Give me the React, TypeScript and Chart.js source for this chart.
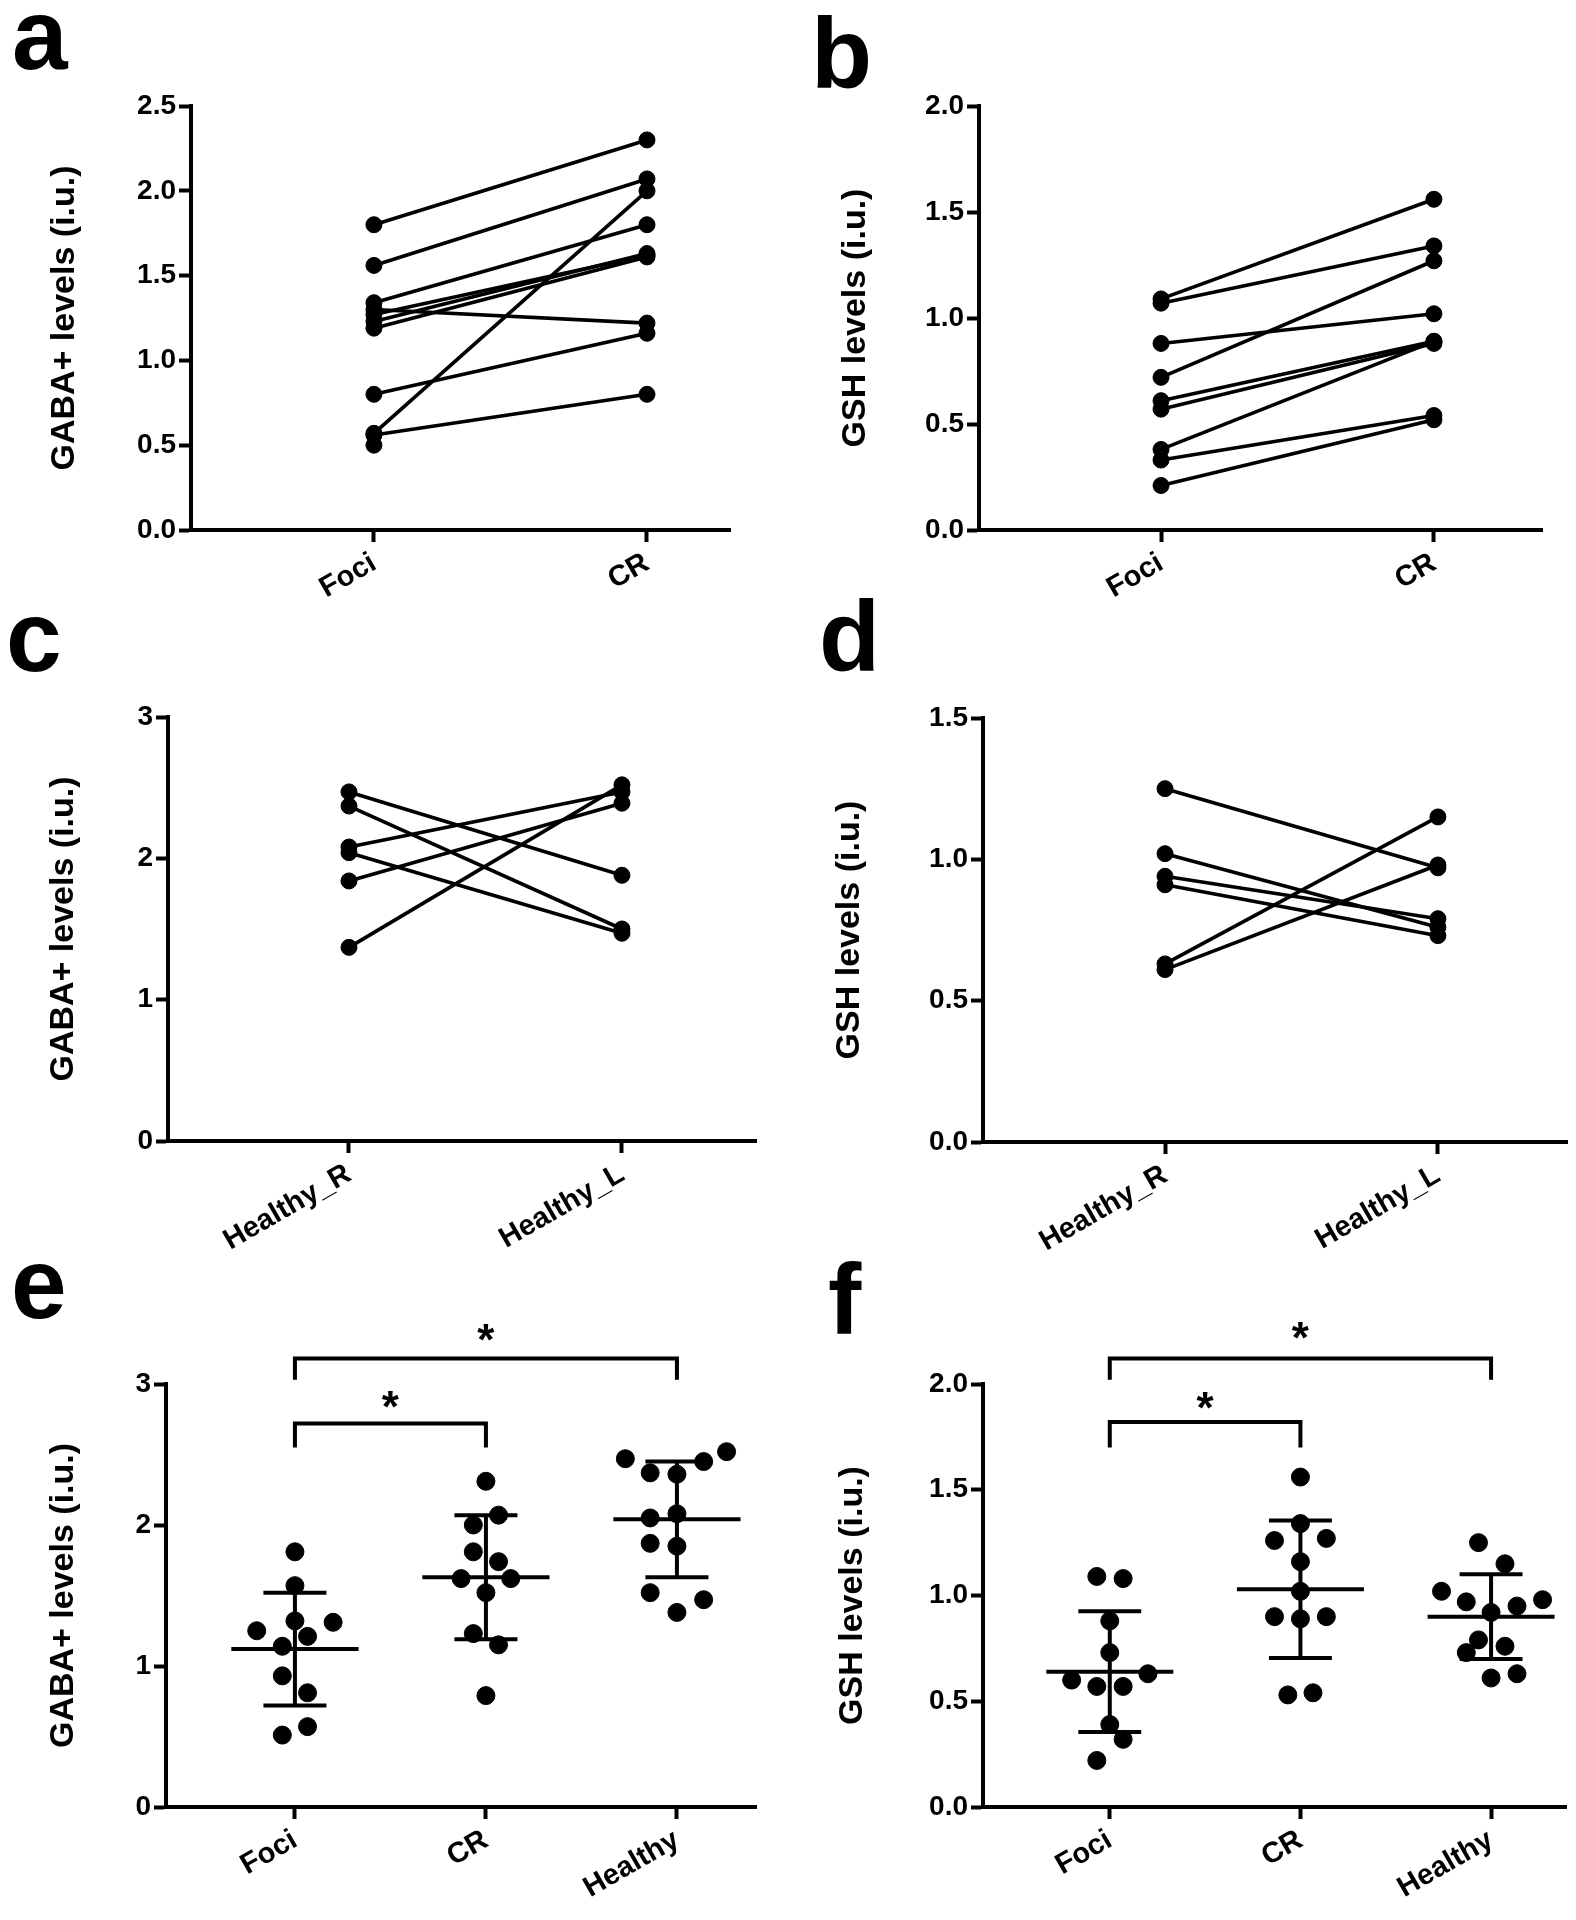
import React, { useEffect, useRef } from "react";
import { Chart, registerables } from "chart.js";

Chart.register(...registerables);

const FONT = '"Liberation Sans", Arial, Helvetica, sans-serif';

// ---------------- DATA ----------------
// Panel a: GABA+ paired (Foci -> CR)
const aCategories = ["Foci", "CR"];
const aFoci: (number | null)[] = [1.8, 1.56, 1.34, 1.3, 1.27, 1.23, 1.19, 0.8, 0.57, 0.56, 0.5];
const aCR: (number | null)[] = [2.3, 2.07, 1.8, 1.22, 1.62, 1.63, 1.61, 1.16, 2.0, 0.8, null];
const aYTicks = [0, 0.5, 1.0, 1.5, 2.0, 2.5];

// Panel b: GSH paired (Foci -> CR)
const bCategories = ["Foci", "CR"];
const bFoci: (number | null)[] = [1.09, 1.07, 0.88, 0.72, 0.61, 0.57, 0.38, 0.33, 0.21];
const bCR: (number | null)[] = [1.56, 1.34, 1.02, 1.27, 0.89, 0.88, 0.89, 0.54, 0.52];
const bYTicks = [0, 0.5, 1.0, 1.5, 2.0];

// Panel c: GABA+ paired (Healthy_R -> Healthy_L)
const cCategories = ["Healthy_R", "Healthy_L"];
const cRight: (number | null)[] = [2.47, 2.37, 2.08, 2.04, 1.84, 1.37];
const cLeft: (number | null)[] = [1.88, 1.5, 2.47, 1.47, 2.39, 2.52];
const cYTicks = [0, 1, 2, 3];

// Panel d: GSH paired (Healthy_R -> Healthy_L)
const dCategories = ["Healthy_R", "Healthy_L"];
const dRight: (number | null)[] = [1.25, 1.02, 0.94, 0.91, 0.63, 0.61];
const dLeft: (number | null)[] = [0.97, 0.76, 0.79, 0.73, 1.15, 0.98];
const dYTicks = [0, 0.5, 1.0, 1.5];

// Panel e: GABA+ groups
const eCategories = ["Foci", "CR", "Healthy"];
const eFoci = [1.81, 1.57, 1.32, 1.25, 1.31, 1.21, 1.14, 0.93, 0.81, 0.57, 0.51];
const eFociJitter = [0, 0, 0, -0.2, 0.2, 0.066, -0.066, -0.066, 0.066, 0.066, -0.066];
const eCR = [2.31, 2.07, 2.0, 1.81, 1.74, 1.62, 1.62, 1.52, 1.23, 1.15, 0.79];
const eCRJitter = [0, 0.066, -0.066, -0.066, 0.066, -0.13, 0.13, 0, -0.066, 0.066, 0];
const eHealthy = [2.47, 2.52, 2.45, 2.37, 2.36, 2.05, 2.08, 1.87, 1.85, 1.52, 1.47, 1.38];
const eHealthyJitter = [-0.27, 0.26, 0.14, -0.14, 0, -0.14, 0, -0.14, 0, -0.14, 0.14, 0];
const eMean = [1.12, 1.63, 2.04];
const eSD = [0.4, 0.44, 0.41];
const eBracketFrom = [0, 0];
const eBracketTo = [1, 2];
const eBracketY = [2.72, 3.18];
const eBracketTip = [2.55, 3.03];
const eStarY = [2.87, 3.35];
const eYTicks = [0, 1, 2, 3];

// Panel f: GSH groups
const fCategories = ["Foci", "CR", "Healthy"];
const fFoci = [1.09, 1.08, 0.88, 0.73, 0.6, 0.57, 0.57, 0.63, 0.39, 0.32, 0.22];
const fFociJitter = [-0.068, 0.07, 0, 0, -0.2, -0.068, 0.07, 0.2, 0, 0.07, -0.068];
const fCR = [1.56, 1.34, 1.26, 1.27, 1.16, 1.02, 0.9, 0.89, 0.9, 0.53, 0.54];
const fCRJitter = [0, 0, -0.136, 0.136, 0, 0, -0.136, 0, 0.136, -0.066, 0.066];
const fHealthy = [1.25, 1.15, 1.02, 0.97, 0.92, 0.95, 0.98, 0.79, 0.73, 0.76, 0.61, 0.63];
const fHealthyJitter = [-0.066, 0.073, -0.26, -0.13, 0, 0.136, 0.27, -0.066, -0.13, 0.073, 0, 0.136];
const fMean = [0.64, 1.03, 0.9];
const fSD = [0.285, 0.325, 0.2];
const fBracketFrom = [0, 0];
const fBracketTo = [1, 2];
const fBracketY = [1.82, 2.12];
const fBracketTip = [1.7, 2.02];
const fStarY = [1.91, 2.24];
const fYTicks = [0, 0.5, 1.0, 1.5, 2.0];

// ---------------- STYLE / LAYOUT ----------------
const BLACK = "#000";
const LINE_W = 3.6;
const AXIS_W = 4;
const MEAN_HALF = 0.333;
const CAP_HALF = 0.165;

type Box = { x: number; y: number; w: number; h: number };
type Layout = {
  box: Box;
  yWidth: number;
  padTop: number;
  padRight: number;
  xHeight: number;
  xMin: number;
  xMax: number;
  titleCenter: number;
};

function pairDatasets(first: (number | null)[], second: (number | null)[]) {
  return first.map((v, i) => ({
    data: [
      { x: 0, y: v },
      { x: 1, y: second[i] },
    ],
    showLine: true,
    borderColor: BLACK,
    borderWidth: LINE_W,
    pointRadius: 8,
    pointBackgroundColor: BLACK,
    pointBorderColor: BLACK,
    pointBorderWidth: 1,
  }));
}

function groupDatasets(
  groups: number[][],
  jitters: number[][],
  means: number[],
  sds: number[],
  bFrom: number[],
  bTo: number[],
  bY: number[],
  bTip: number[]
) {
  const ds: any[] = [];
  groups.forEach((vals, g) => {
    ds.push({
      data: vals.map((v, i) => ({ x: g + jitters[g][i], y: v })),
      showLine: false,
      pointRadius: 9,
      pointBackgroundColor: BLACK,
      pointBorderColor: BLACK,
      pointBorderWidth: 1,
    });
  });
  const lineStyle = {
    showLine: true,
    borderColor: BLACK,
    borderWidth: AXIS_W,
    pointRadius: 0,
    borderCapStyle: "butt",
  };
  means.forEach((m, g) => {
    const up = m + sds[g];
    const lo = m - sds[g];
    ds.push({ ...lineStyle, data: [{ x: g - MEAN_HALF, y: m }, { x: g + MEAN_HALF, y: m }] });
    ds.push({ ...lineStyle, data: [{ x: g, y: lo }, { x: g, y: up }] });
    ds.push({ ...lineStyle, data: [{ x: g - CAP_HALF, y: up }, { x: g + CAP_HALF, y: up }] });
    ds.push({ ...lineStyle, data: [{ x: g - CAP_HALF, y: lo }, { x: g + CAP_HALF, y: lo }] });
  });
  bFrom.forEach((from, k) => {
    ds.push({
      ...lineStyle,
      clip: false,
      borderJoinStyle: "miter",
      data: [
        { x: from, y: bTip[k] },
        { x: from, y: bY[k] },
        { x: bTo[k], y: bY[k] },
        { x: bTo[k], y: bTip[k] },
      ],
    });
  });
  return ds;
}

function makeConfig(
  layout: Layout,
  categories: string[],
  yTicks: number[],
  decimals: number,
  title: string,
  datasets: any[],
  stars?: { from: number[]; to: number[]; y: number[] }
) {
  const titleFont = { family: FONT, size: 34, weight: "bold" as const, lineHeight: 1.2 };
  const starPlugin = {
    id: "stars",
    afterDatasetsDraw(chart: any) {
      if (!stars) return;
      const ctx = chart.ctx;
      const xs = chart.scales.x;
      const ys = chart.scales.y;
      ctx.save();
      ctx.fillStyle = BLACK;
      ctx.font = `bold 44px ${FONT}`;
      ctx.textAlign = "center";
      ctx.textBaseline = "middle";
      stars.y.forEach((yv, k) => {
        const xm = (stars.from[k] + stars.to[k]) / 2;
        ctx.fillText("*", xs.getPixelForValue(xm), ys.getPixelForValue(yv) + 8);
      });
      ctx.restore();
    },
  };
  return {
    type: "scatter" as const,
    data: { datasets },
    options: {
      responsive: false,
      animation: false as const,
      devicePixelRatio: 1,
      events: [],
      layout: { padding: { left: 0, top: layout.padTop, right: layout.padRight, bottom: 0 } },
      plugins: {
        legend: { display: false },
        tooltip: { enabled: false },
        title: { display: false },
      },
      scales: {
        x: {
          type: "linear" as const,
          min: layout.xMin,
          max: layout.xMax,
          afterBuildTicks: (s: any) => {
            s.ticks = categories.map((_, i) => ({ value: i }));
          },
          afterFit: (s: any) => {
            s.height = layout.xHeight;
          },
          ticks: {
            autoSkip: false,
            minRotation: 30,
            maxRotation: 30,
            padding: 4,
            color: BLACK,
            font: { family: FONT, size: 29, weight: "bold" as const },
            callback: (v: any) => categories[Math.round(Number(v))] ?? "",
          },
          grid: {
            display: true,
            drawOnChartArea: false,
            drawTicks: true,
            tickLength: 12,
            tickWidth: AXIS_W,
            tickColor: BLACK,
            color: BLACK,
          },
          border: { display: true, color: BLACK, width: AXIS_W },
        },
        y: {
          type: "linear" as const,
          min: yTicks[0],
          max: yTicks[yTicks.length - 1],
          afterBuildTicks: (s: any) => {
            s.ticks = yTicks.map((v) => ({ value: v }));
          },
          afterFit: (s: any) => {
            s.width = layout.yWidth;
          },
          ticks: {
            padding: 3,
            color: BLACK,
            font: { family: FONT, size: 28, weight: "bold" as const },
            callback: (v: any) => Number(v).toFixed(decimals),
          },
          grid: {
            display: true,
            drawOnChartArea: false,
            drawTicks: true,
            tickLength: 12,
            tickWidth: AXIS_W,
            tickColor: BLACK,
            color: BLACK,
          },
          border: { display: true, color: BLACK, width: AXIS_W },
          title: {
            display: true,
            text: title,
            color: BLACK,
            font: titleFont,
            padding: { top: layout.titleCenter - (titleFont.size * 1.2) / 2, bottom: 0 },
          },
        },
      },
    },
    plugins: [starPlugin],
  };
}

function ChartPanel({ layout, config }: { layout: Layout; config: any }) {
  const ref = useRef<HTMLCanvasElement | null>(null);
  useEffect(() => {
    if (!ref.current) return;
    const chart = new Chart(ref.current, config);
    return () => chart.destroy();
  }, []);
  const b = layout.box;
  return (
    <canvas
      ref={ref}
      width={b.w}
      height={b.h}
      style={{ position: "absolute", left: b.x, top: b.y, width: b.w, height: b.h }}
    />
  );
}

const layoutA: Layout = { box: { x: 0, y: 0, w: 786, h: 630 }, yWidth: 191, padTop: 106, padRight: 56, xHeight: 100, xMin: -0.67, xMax: 1.304, titleCenter: 65 };
const layoutB: Layout = { box: { x: 790, y: 0, w: 786, h: 630 }, yWidth: 189, padTop: 106, padRight: 34, xHeight: 100, xMin: -0.667, xMax: 1.396, titleCenter: 66 };
const layoutC: Layout = { box: { x: 0, y: 620, w: 786, h: 660 }, yWidth: 168, padTop: 97, padRight: 30, xHeight: 139, xMin: -0.663, xMax: 1.491, titleCenter: 64 };
const layoutD: Layout = { box: { x: 790, y: 620, w: 786, h: 660 }, yWidth: 193, padTop: 98, padRight: 9, xHeight: 138, xMin: -0.667, xMax: 1.473, titleCenter: 60 };
const layoutE: Layout = { box: { x: 0, y: 1265, w: 786, h: 655 }, yWidth: 166, padTop: 119, padRight: 30, xHeight: 113, xMin: -0.675, xMax: 2.414, titleCenter: 64 };
const layoutF: Layout = { box: { x: 790, y: 1265, w: 786, h: 655 }, yWidth: 193, padTop: 119, padRight: 9, xHeight: 113, xMin: -0.665, xMax: 2.393, titleCenter: 63 };

const configA = makeConfig(layoutA, aCategories, aYTicks, 1, "GABA+ levels (i.u.)", pairDatasets(aFoci, aCR));
const configB = makeConfig(layoutB, bCategories, bYTicks, 1, "GSH levels (i.u.)", pairDatasets(bFoci, bCR));
const configC = makeConfig(layoutC, cCategories, cYTicks, 0, "GABA+ levels (i.u.)", pairDatasets(cRight, cLeft));
const configD = makeConfig(layoutD, dCategories, dYTicks, 1, "GSH levels (i.u.)", pairDatasets(dRight, dLeft));
const configE = makeConfig(
  layoutE,
  eCategories,
  eYTicks,
  0,
  "GABA+ levels (i.u.)",
  groupDatasets([eFoci, eCR, eHealthy], [eFociJitter, eCRJitter, eHealthyJitter], eMean, eSD, eBracketFrom, eBracketTo, eBracketY, eBracketTip),
  { from: eBracketFrom, to: eBracketTo, y: eStarY }
);
const configF = makeConfig(
  layoutF,
  fCategories,
  fYTicks,
  1,
  "GSH levels (i.u.)",
  groupDatasets([fFoci, fCR, fHealthy], [fFociJitter, fCRJitter, fHealthyJitter], fMean, fSD, fBracketFrom, fBracketTo, fBracketY, fBracketTip),
  { from: fBracketFrom, to: fBracketTo, y: fStarY }
);

const letters = [
  { t: "a", x: 12, y: -16 },
  { t: "b", x: 811, y: 3 },
  { t: "c", x: 6, y: 586 },
  { t: "d", x: 819, y: 586 },
  { t: "e", x: 11, y: 1233 },
  { t: "f", x: 828, y: 1249 },
];

export default function App() {
  return (
    <div style={{ position: "absolute", left: 0, top: 0, width: 1576, height: 1920, background: "#fff", overflow: "hidden" }}>
      <ChartPanel layout={layoutA} config={configA} />
      <ChartPanel layout={layoutB} config={configB} />
      <ChartPanel layout={layoutC} config={configC} />
      <ChartPanel layout={layoutD} config={configD} />
      <ChartPanel layout={layoutE} config={configE} />
      <ChartPanel layout={layoutF} config={configF} />
      {letters.map((l) => (
        <div
          key={l.t}
          style={{
            position: "absolute",
            left: l.x,
            top: l.y,
            fontFamily: FONT,
            fontWeight: "bold",
            fontSize: 100,
            lineHeight: "100px",
            color: BLACK,
          }}
        >
          {l.t}
        </div>
      ))}
    </div>
  );
}
